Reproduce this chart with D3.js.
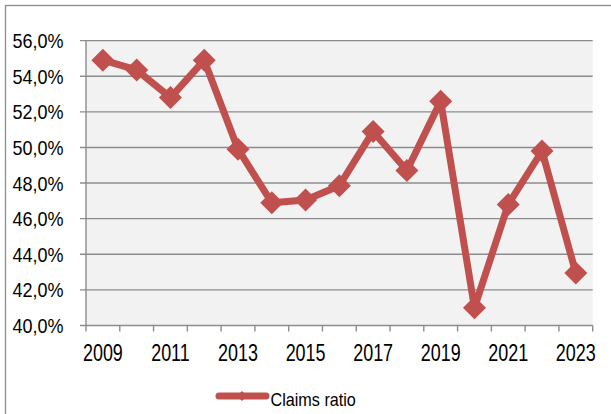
<!DOCTYPE html>
<html>
<head>
<meta charset="utf-8">
<script src="https://cdn.jsdelivr.net/npm/d3@7"></script>
<style>
  body { margin: 0; background: #fff; }
  svg { display: block; font-family: "Liberation Sans", Arial, sans-serif; }
</style>
</head>
<body>
<div id="chart"></div>
<script>
// claims ratio, %, per year
var years = [2009, 2010, 2011, 2012, 2013, 2014, 2015, 2016, 2017, 2018, 2019, 2020, 2021, 2022, 2023];
var claimsRatio = [54.9, 54.35, 52.8, 54.9, 49.9, 46.9, 47.05, 47.85, 50.9, 48.7, 52.6, 41.0, 46.8, 49.8, 42.95];
var yTicks = [40, 42, 44, 46, 48, 50, 52, 54, 56];
var xLabels = [2009, 2011, 2013, 2015, 2017, 2019, 2021, 2023];
var seriesName = "Claims ratio";

var width = 611, height = 414;
var red = "#c0504d", grid = "#8c8c8c";
var plotL = 86, plotR = 592.7, plotT = 40.6, plotB = 325.5;

var svg = d3.select("#chart").append("svg")
    .attr("width", width)
    .attr("height", height);

// outer chart frame (only top/left visible)
svg.append("rect")
    .attr("x", 5.5).attr("y", 5.5)
    .attr("width", 800).attr("height", 600)
    .attr("fill", "none")
    .attr("stroke", grid)
    .attr("stroke-width", 1.3);

var x = d3.scaleBand().domain(years).range([plotL, plotR]);
var y = d3.scaleLinear().domain([40, 56]).range([plotB, plotT]);

// plot background
svg.append("rect")
    .attr("x", plotL).attr("y", plotT)
    .attr("width", plotR - plotL).attr("height", plotB - plotT)
    .attr("fill", "#f2f2f2");

//gridlines + y ticks
svg.append("g").selectAll("line")
    .data(yTicks)
    .enter().append("line")
      .attr("x1", plotL - 6).attr("x2", plotR)
      .attr("y1", function(d) { return y(d); })
      .attr("y2", function(d) { return y(d); })
      .attr("stroke", grid)
      .attr("stroke-width", 1.4);

svg.append("line")
    .attr("x1", plotL).attr("x2", plotL)
    .attr("y1", plotT).attr("y2", plotB)
    .attr("stroke", grid).attr("stroke-width", 1.4);

// x ticks at category boundaries
var bounds = years.map(function(d) { return x(d); }).concat([plotR]);
svg.append("g").selectAll("line")
    .data(bounds)
    .enter().append("line")
      .attr("x1", function(d) { return d; })
      .attr("x2", function(d) { return d; })
      .attr("y1", plotB).attr("y2", plotB + 6)
      .attr("stroke", grid).attr("stroke-width", 1.4);

// y labels (narrow look -> horizontal squeeze)
svg.append("g").selectAll("text")
    .data(yTicks)
    .enter().append("text")
      .attr("transform", function(d) { return "translate(63.5," + (y(d) + 7.5) + ") scale(0.9,1)"; })
      .attr("text-anchor", "end")
      .attr("font-size", 20)
      .attr("fill", "#000")
      .text(function(d) { return d.toFixed(1).replace(".", ",") + "%"; });

// x labels
svg.append("g").selectAll("text")
    .data(xLabels)
    .enter().append("text")
      .attr("transform", function(d) { return "translate(" + (x(d) + x.bandwidth() / 2) + ",361) scale(0.78,1)"; })
      .attr("text-anchor", "middle")
      .attr("font-size", 23)
      .attr("fill", "#000")
      .text(function(d) { return d; });

var line = d3.line()
    .x(function(d, i) { return x(years[i]) + x.bandwidth() / 2; })
    .y(function(d) { return y(d); });

svg.append("path")
    .datum(claimsRatio)
    .attr("d", line)
    .attr("fill", "none")
    .attr("stroke", red)
    .attr("stroke-width", 7)
    .attr("stroke-linejoin", "round");

var diamond = "M0,-11.5L11.5,0L0,11.5L-11.5,0Z";
svg.append("g").selectAll("path")
    .data(claimsRatio)
    .enter().append("path")
      .attr("d", diamond)
      .attr("transform", function(d, i) { return "translate(" + (x(years[i]) + x.bandwidth() / 2) + "," + y(d) + ")"; })
      .attr("fill", red);

// legend
var lg = svg.append("g");
lg.append("line")
    .attr("x1", 219).attr("x2", 266)
    .attr("y1", 396).attr("y2", 396)
    .attr("stroke", red).attr("stroke-width", 7)
    .attr("stroke-linecap", "round");
lg.append("path")
    .attr("d", "M0,-5L5,0L0,5L-5,0Z")
    .attr("transform", "translate(242,396)")
    .attr("fill", red);
lg.append("text")
    .attr("transform", "translate(270.5,405.5) scale(0.87,1)")
    .attr("font-size", 18.6)
    .attr("fill", "#000")
    .text(seriesName);
</script>
</body>
</html>
